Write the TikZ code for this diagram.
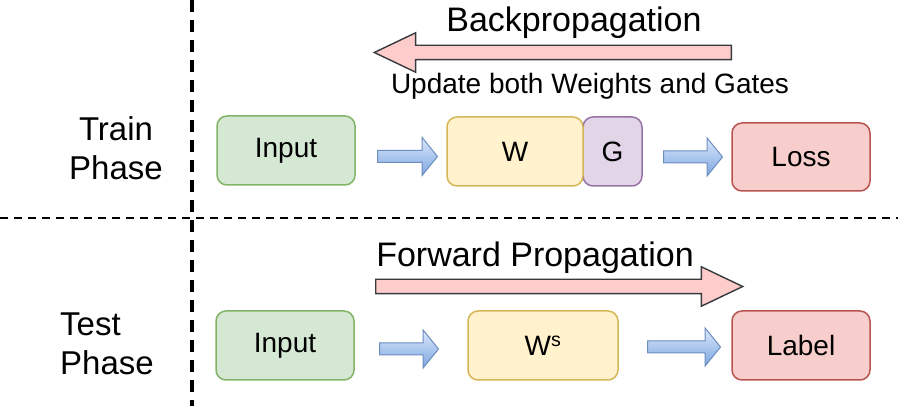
\documentclass[tikz,border=0pt]{standalone}
\usepackage{fontspec}
\setmainfont{Liberation Sans}
\usetikzlibrary{shapes.arrows}

\definecolor{greenfill}{HTML}{D5E8D4}
\definecolor{greenline}{HTML}{82B366}
\definecolor{yellowfill}{HTML}{FFF2CC}
\definecolor{yellowline}{HTML}{D6B656}
\definecolor{purplefill}{HTML}{E1D5E7}
\definecolor{purpleline}{HTML}{9673A6}
\definecolor{redfill}{HTML}{F8CECC}
\definecolor{redline}{HTML}{B85450}
\definecolor{flowtop}{HTML}{DAE8FC}
\definecolor{flowbot}{HTML}{7EA6E0}
\definecolor{flowline}{HTML}{6C8EBF}
\definecolor{bigfill}{HTML}{FFCCCC}
\definecolor{bigline}{HTML}{36393D}

\begin{document}
\begin{tikzpicture}[x=1pt, y=-1pt,
    box/.style={draw, rounded corners=10pt, line width=1.5pt, minimum height=69pt,
        inner sep=0pt, font=\fontsize{28}{34}\selectfont},
    flow/.style={single arrow, draw=flowline, line width=1pt, top color=flowtop,
        bottom color=flowbot, minimum height=60pt, minimum width=37pt, inner sep=0pt,
        inner ysep=5.5pt, single arrow head extend=13pt, single arrow tip angle=102,
        anchor=tail},
    big/.style={single arrow, draw=bigline, fill=bigfill, line width=1.4pt,
        minimum width=38pt, inner sep=0pt, inner ysep=6.5pt,
        single arrow head extend=12.5pt, single arrow tip angle=51, anchor=tail},
    phase/.style={inner sep=0pt, font=\fontsize{33}{39}\selectfont},
    title/.style={anchor=base, inner sep=0pt, font=\fontsize{34}{40}\selectfont},
    divider/.style={dash pattern=on 8pt off 6pt}]
    \useasboundingbox (0,0) rectangle (898,406);

    % dividers
    \coordinate (vtop) at (192,0);
    \coordinate (vbot) at (192,406);
    \coordinate (hleft) at (0,218);
    \coordinate (hright) at (898,218);
    \draw[line width=3.2pt, dash pattern=on 12pt off 8pt] (vtop) -- (vbot);
    \draw[divider, line width=2.3pt] (hleft) -- (hright);

    % phase names
    \node[phase, align=center] (train) at (116,148) {Train\\Phase};
    \node[phase, align=left, anchor=west] (test) at (60,344) {Test\\Phase};

    % train phase
    \node[box, fill=greenfill, draw=greenline, minimum width=138pt] (in1) at (286,150.5) {Input};
    \node[box, fill=purplefill, draw=purpleline, minimum width=59pt] (g) at (612.5,151.5) {G};
    \node[box, fill=yellowfill, draw=yellowline, minimum width=136pt] (w) at (515,151.5) {W};
    \node[box, fill=redfill, draw=redline, minimum width=138pt, minimum height=68pt] (loss) at (801,157) {Loss};
    \node[flow] (f1) at (377,156.5) {};
    \node[flow, minimum height=59pt] (f2) at (663,157) {};

    \node[big, minimum height=357pt, shape border rotate=180] (bp) at (732,52.5) {};
    \node[title] (bptext) at (574,32) {Backpropagation};
    \node[anchor=base, inner sep=0pt, font=\fontsize{28}{34}\selectfont] (update) at (590,94) {Update both Weights and Gates};

    % test phase
    \node[box, fill=greenfill, draw=greenline, minimum width=138pt] (in2) at (285,345.5) {Input};
    \node[box, fill=yellowfill, draw=yellowline, minimum width=150pt] (ws) at (543,345.5) {W\textsuperscript{s}};
    \node[box, fill=redfill, draw=redline, minimum width=138pt] (lab) at (801,345.5) {Label};
    \node[flow, minimum height=59pt] (f3) at (379,349) {};
    \node[flow, minimum height=73pt] (f4) at (647,347) {};

    \node[big, minimum height=367pt] (fp) at (375,286.5) {};
    \node[title] (fptext) at (535,267) {Forward Propagation};
\end{tikzpicture}
\end{document}
